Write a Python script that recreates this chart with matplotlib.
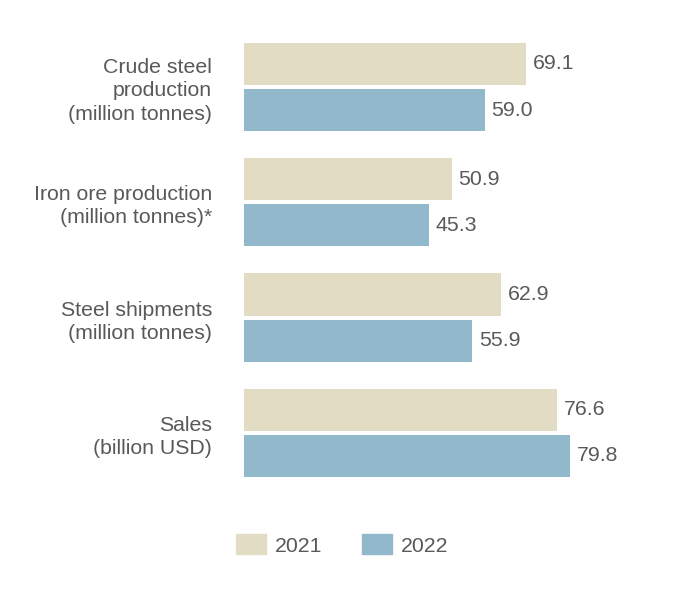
import numpy as np
import matplotlib.pyplot as plt
from matplotlib.patches import Patch

plt.rcParams['font.family'] = ['Liberation Sans', 'DejaVu Sans']

categories = ['Crude steel\nproduction\n(million tonnes)',
              'Iron ore production\n(million tonnes)*',
              'Steel shipments\n(million tonnes)',
              'Sales\n(billion USD)']
values_2021 = [69.1, 50.9, 62.9, 76.6]
values_2022 = [59.0, 45.3, 55.9, 79.8]
series_labels = ['2021', '2022']

c2021 = '#e2dcc4'
c2022 = '#92b8cb'
txt = '#58595b'
fs = 15.3

fig = plt.figure(figsize=(6.84, 6.0), dpi=100)
# axes: x from 244px, 4.08 px per unit; y spans groups of ~115px
ax = fig.add_axes([244 / 684, 1 - 490.5 / 600, 408 / 684, 461.2 / 600])

y = np.arange(len(categories))
h = 0.365
off = 0.2
ax.barh(y - off, values_2021, height=h, color=c2021)
ax.barh(y + off, values_2022, height=h, color=c2022)

for i in range(len(categories)):
    ax.text(values_2021[i] + 1.7, y[i] - off, f'{values_2021[i]:.1f}',
            va='center', ha='left', fontsize=fs, color=txt)
    ax.text(values_2022[i] + 1.7, y[i] + off, f'{values_2022[i]:.1f}',
            va='center', ha='left', fontsize=fs, color=txt)

ax.set_yticks(y)
ax.set_yticklabels(categories, fontsize=fs, color=txt, linespacing=1.27)
ax.tick_params(axis='y', length=0, pad=23)
ax.set_xticks([])
ax.set_xlim(0, 100)
ax.set_ylim(3.5, -0.5)
for s in ax.spines.values():
    s.set_visible(False)

handles = [Patch(color=c2021), Patch(color=c2022)]
fig.legend(handles, series_labels, loc='center left',
           bbox_to_anchor=(219 / 684, 1 - 545 / 600), ncol=2, frameon=False,
           fontsize=fs, labelcolor=txt, handlelength=1.4, handleheight=1.05,
           handletextpad=0.45, columnspacing=1.85, borderpad=0.3)

fig.savefig('out.png', dpi=100)
